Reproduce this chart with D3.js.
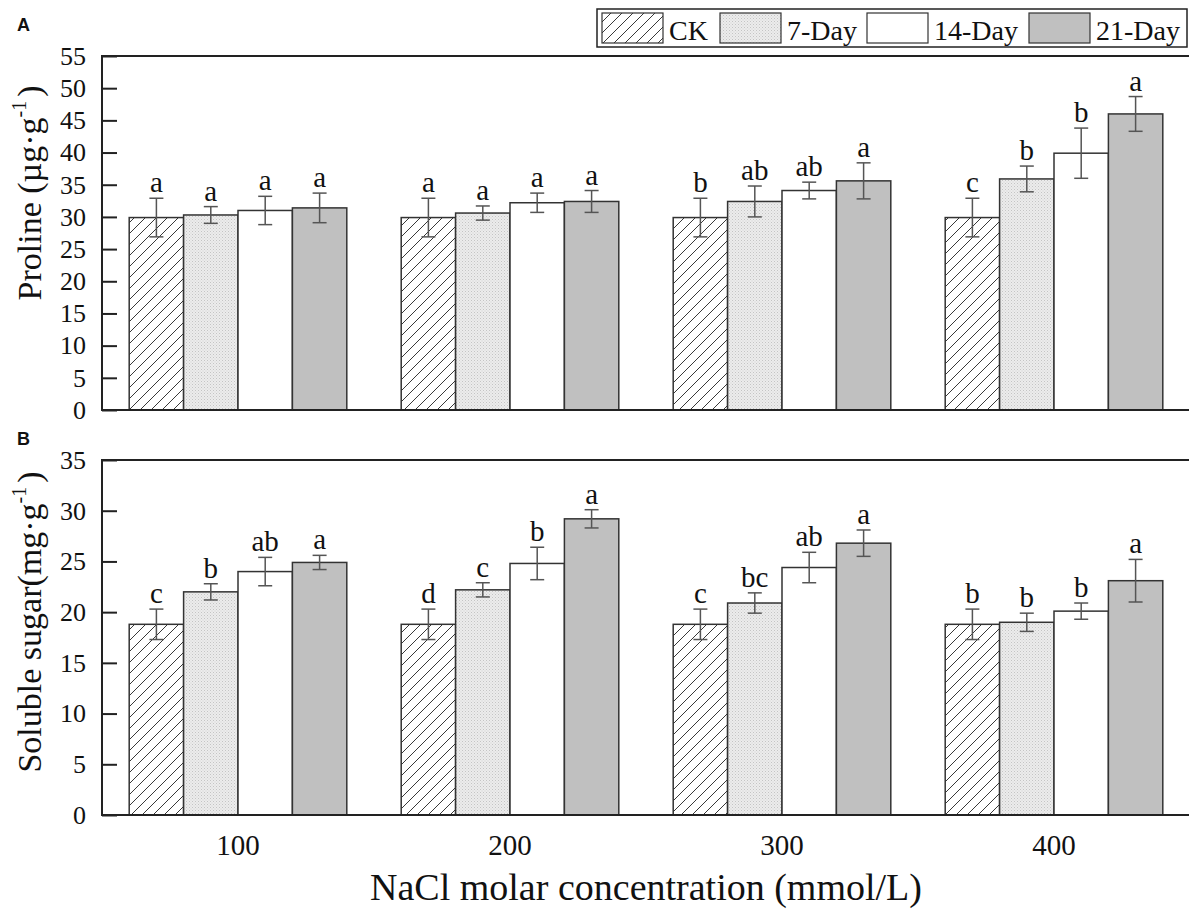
<!DOCTYPE html>
<html>
<head>
<meta charset="utf-8">
<script src="https://cdn.jsdelivr.net/npm/d3@7"></script>
<style>
  body { margin: 0; background: #fff; }
  text { font-family: "Liberation Serif", "Times New Roman", serif; fill: #111; }
</style>
</head>
<body>
<script>
// data
var concentrations = ["100", "200", "300", "400"];
var periods = ["CK", "7-Day", "14-Day", "21-Day"];

var prolineMean = [[29.9, 30.3, 31.0, 31.4], [29.9, 30.6, 32.2, 32.4], [29.9, 32.4, 34.1, 35.6], [29.9, 35.9, 39.9, 46.0]];
var prolineErr = [[3.0, 1.3, 2.2, 2.3], [3.0, 1.1, 1.5, 1.7], [3.0, 2.4, 1.3, 2.8], [3.0, 2.0, 3.9, 2.7]];
var prolineLetters = [["a", "a", "a", "a"], ["a", "a", "a", "a"], ["b", "ab", "ab", "a"], ["c", "b", "b", "a"]];

var sugarMean = [[18.8, 22.0, 24.0, 24.9], [18.8, 22.2, 24.8, 29.2], [18.8, 20.9, 24.4, 26.8], [18.8, 19.0, 20.1, 23.1]];
var sugarErr = [[1.5, 0.8, 1.4, 0.7], [1.5, 0.7, 1.6, 0.9], [1.5, 1.0, 1.5, 1.3], [1.5, 0.9, 0.8, 2.1]];
var sugarLetters = [["c", "b", "ab", "a"], ["d", "c", "b", "a"], ["c", "bc", "ab", "a"], ["b", "b", "b", "a"]];

var prolineTicks = [0, 5, 10, 15, 20, 25, 30, 35, 40, 45, 50, 55];
var sugarTicks = [0, 5, 10, 15, 20, 25, 30, 35];

var width = 1189, height = 911;
var left = 102, right = 1190;

var svg = d3.select("body").append("svg")
  .attr("width", width)
  .attr("height", height);

var defs = svg.append("defs");

var hatch = defs.append("pattern")
  .attr("id", "hatch")
  .attr("patternUnits", "userSpaceOnUse")
  .attr("width", 11)
  .attr("height", 11);
hatch.append("rect").attr("width", 11).attr("height", 11).attr("fill", "#fff");
hatch.append("path")
  .attr("d", "M0,11 L11,0 M-3,3 L3,-3 M8,14 L14,8")
  .attr("stroke", "#222")
  .attr("stroke-width", 0.9);

var dots = defs.append("pattern")
  .attr("id", "dots")
  .attr("patternUnits", "userSpaceOnUse")
  .attr("width", 3)
  .attr("height", 3);
dots.append("rect").attr("width", 3).attr("height", 3).attr("fill", "#ececec");
dots.append("rect").attr("width", 1).attr("height", 1).attr("fill", "#c4c4c4");
dots.append("rect").attr("x", 1.5).attr("y", 1.5).attr("width", 1).attr("height", 1).attr("fill", "#d0d0d0");

var fills = d3.scaleOrdinal()
  .domain(periods)
  .range(["url(#hatch)", "url(#dots)", "#ffffff", "#c0c0c0"]);

var x = d3.scaleBand()
  .domain(concentrations)
  .range([left, right])
  .paddingInner(0.2)
  .paddingOuter(0.1);

var xs = d3.scaleBand()
  .domain(periods)
  .range([0, x.bandwidth()]);

var panels = [
  { label: "A", top: 56, bottom: 410, max: 55, ticks: prolineTicks, mean: prolineMean, err: prolineErr, letters: prolineLetters,
    title: ["Proline (µg·g", ")"], titleY: 193, labelY: 31 },
  { label: "B", top: 460, bottom: 815, max: 35, ticks: sugarTicks, mean: sugarMean, err: sugarErr, letters: sugarLetters,
    title: ["Soluble sugar(mg·g", ")"], titleY: 622, labelY: 445 }
];

panels.forEach(function(p) {
  var y = d3.scaleLinear().domain([0, p.max]).range([p.bottom, p.top]);
  var g = svg.append("g");

  var rows = [];
  concentrations.forEach(function(c, i) {
    periods.forEach(function(s, j) {
      rows.push({ conc: c, period: s, v: p.mean[i][j], e: p.err[i][j], letter: p.letters[i][j] });
    });
  });

  g.selectAll(".bar")
    .data(rows)
    .enter().append("rect")
    .attr("class", "bar")
    .attr("x", function(d) { return x(d.conc) + xs(d.period); })
    .attr("y", function(d) { return y(d.v); })
    .attr("width", xs.bandwidth())
    .attr("height", function(d) { return y(0) - y(d.v); })
    .attr("fill", function(d) { return fills(d.period); })
    .attr("stroke", "#333")
    .attr("stroke-width", 1.5);

  var eb = g.selectAll(".err")
    .data(rows)
    .enter().append("g")
    .attr("class", "err")
    .attr("transform", function(d) { return "translate(" + (x(d.conc) + xs(d.period) + xs.bandwidth() / 2) + ",0)"; })
    .attr("stroke", "#555")
    .attr("stroke-width", 1.5);
  eb.append("line")
    .attr("y1", function(d) { return y(d.v + d.e); })
    .attr("y2", function(d) { return y(d.v - d.e); });
  eb.append("line")
    .attr("x1", -7).attr("x2", 7)
    .attr("y1", function(d) { return y(d.v + d.e); })
    .attr("y2", function(d) { return y(d.v + d.e); });
  eb.append("line")
    .attr("x1", -7).attr("x2", 7)
    .attr("y1", function(d) { return y(d.v - d.e); })
    .attr("y2", function(d) { return y(d.v - d.e); });

  g.selectAll(".letter")
    .data(rows)
    .enter().append("text")
    .attr("class", "letter")
    .attr("x", function(d) { return x(d.conc) + xs(d.period) + xs.bandwidth() / 2; })
    .attr("y", function(d) { return y(d.v + d.e) - 6; })
    .attr("text-anchor", "middle")
    .style("font-size", "29px")
    .text(function(d) { return d.letter; });

  // frame
  g.append("rect")
    .attr("x", left)
    .attr("y", p.top)
    .attr("width", right - left + 10)
    .attr("height", p.bottom - p.top)
    .attr("fill", "none")
    .attr("stroke", "#222")
    .attr("stroke-width", 2);

  var axis = g.append("g")
    .attr("transform", "translate(" + left + ",0)")
    .call(d3.axisLeft(y).tickValues(p.ticks).tickSizeInner(-15).tickSizeOuter(0).tickPadding(16))
    .attr("font-family", "Liberation Serif")
    .attr("font-size", 26);
  axis.select(".domain").remove();
  axis.selectAll("line").attr("stroke", "#222").attr("stroke-width", 2);
  axis.selectAll("text").attr("fill", "#111");

  var t = svg.append("text")
    .attr("transform", "translate(41," + p.titleY + ") rotate(-90)")
    .attr("text-anchor", "middle")
    .style("font-size", "34px");
  t.append("tspan").text(p.title[0]);
  t.append("tspan").attr("dy", -15).style("font-size", "20px").text("-1");
  t.append("tspan").attr("dy", 15).attr("dx", 4).text(p.title[1]);

  svg.append("text")
    .attr("x", 17)
    .attr("y", p.labelY)
    .style("font-family", "'Liberation Sans', Arial, sans-serif")
    .style("font-weight", "bold")
    .style("font-size", "18px")
    .text(p.label);
});

// x tick labels
svg.selectAll(".xlab")
  .data(concentrations)
  .enter().append("text")
  .attr("class", "xlab")
  .attr("x", function(d) { return x(d) + x.bandwidth() / 2; })
  .attr("y", 855)
  .attr("text-anchor", "middle")
  .style("font-size", "29px")
  .text(function(d) { return d; });

svg.append("text")
  .attr("x", (left + right) / 2)
  .attr("y", 900)
  .attr("text-anchor", "middle")
  .style("font-size", "38px")
  .text("NaCl molar concentration (mmol/L)");

// legend
var legendX = [602, 720, 867, 1029];
var legend = svg.append("g");
legend.append("rect")
  .attr("x", 597).attr("y", 9)
  .attr("width", 590).attr("height", 38)
  .attr("fill", "#fff")
  .attr("stroke", "#222")
  .attr("stroke-width", 1.5);
var items = legend.selectAll(".item")
  .data(periods)
  .enter().append("g")
  .attr("class", "item")
  .attr("transform", function(d, i) { return "translate(" + legendX[i] + ",0)"; });
items.append("rect")
  .attr("y", 13)
  .attr("width", 61)
  .attr("height", 30)
  .attr("fill", function(d) { return fills(d); })
  .attr("stroke", "#333")
  .attr("stroke-width", 1.2);
items.append("text")
  .attr("x", 67)
  .attr("y", 40)
  .style("font-size", "28px")
  .text(function(d) { return d; });
</script>
</body>
</html>
